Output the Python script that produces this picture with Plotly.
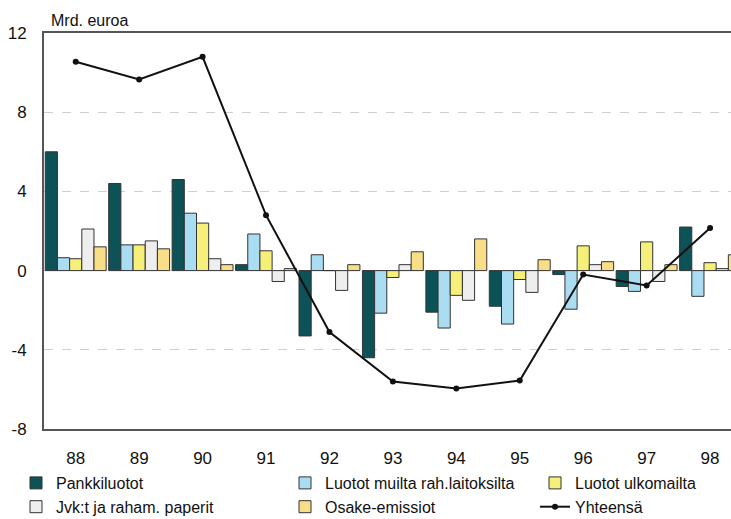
import plotly.graph_objects as go

# Dati (Mrd. euroa)
vuodet = ["88", "89", "90", "91", "92", "93", "94", "95", "96", "97", "98"]

pankkiluotot = [6.0, 4.4, 4.6, 0.3, -3.3, -4.4, -2.1, -1.8, -0.2, -0.8, 2.2]
luotot_muilta = [0.65, 1.3, 2.9, 1.85, 0.8, -2.15, -2.9, -2.7, -1.95, -1.05, -1.3]
luotot_ulkomailta = [0.6, 1.3, 2.4, 1.0, 0.0, -0.35, -1.25, -0.45, 1.25, 1.45, 0.4]
jvkt_paperit = [2.1, 1.5, 0.6, -0.55, -1.0, 0.3, -1.5, -1.1, 0.3, -0.55, 0.1]
osake_emissiot = [1.2, 1.1, 0.3, 0.1, 0.3, 0.95, 1.6, 0.55, 0.45, 0.3, 0.8]
yhteensa = [10.55, 9.65, 10.8, 2.8, -3.1, -5.6, -5.95, -5.55, -0.2, -0.75, 2.15]

# Tacche asse y (trattino semplice come nell'originale)
y_tick_vals = [-8, -4, 0, 4, 8, 12]
y_tick_text = ["-8", "-4", "0", "4", "8", "12"]

# Stile
COL = {
    'pankki': '#0c5256',
    'muilta': '#aadcf2',
    'ulko': '#f6f07a',
    'jvk': '#eeeeee',
    'osake': '#f8de86',
    'bordo': '#333333',
    'griglia': '#cfcfcf',
    'asse': '#555555',
}
FONT = "Liberation Sans, Arial, sans-serif"

fig = go.Figure()

# (nome, valori, colore, legenda) - tre colonne di legenda come nell'originale
serie = [
    ("Pankkiluotot", pankkiluotot, COL['pankki'], "legend"),
    ("Luotot muilta rah.laitoksilta", luotot_muilta, COL['muilta'], "legend2"),
    ("Luotot ulkomailta", luotot_ulkomailta, COL['ulko'], "legend3"),
    ("Jvk:t ja raham. paperit", jvkt_paperit, COL['jvk'], "legend"),
    ("Osake-emissiot", osake_emissiot, COL['osake'], "legend2"),
]
for nome, valori, colore, leg in serie:
    fig.add_trace(go.Bar(
        x=vuodet, y=valori, name=nome, legend=leg,
        marker=dict(color=colore, line=dict(color=COL['bordo'], width=1)),
    ))

# Linea totale
fig.add_trace(go.Scatter(
    x=vuodet, y=yhteensa, name="Yhteensä", mode="lines+markers",
    legend="legend3",
    line=dict(color="#111111", width=2),
    marker=dict(color="#111111", size=6),
))

def legenda(x_px):
    return dict(
        orientation="v", xref="container", yref="container",
        x=x_px / 731, y=1 - 466 / 519, xanchor="left", yanchor="top",
        font=dict(size=16), tracegroupgap=0, bgcolor="rgba(0,0,0,0)",
        traceorder="normal",
    )

fig.update_layout(
    width=731, height=519,
    margin=dict(l=44, r=0, t=33, b=90, autoexpand=False),
    paper_bgcolor="white", plot_bgcolor="white",
    font=dict(family=FONT, size=17, color="#111111"),
    barmode="group", bargap=0.04, bargroupgap=0,
    showlegend=True,
    legend=legenda(16),
    legend2=legenda(285),
    legend3=legenda(535),
    annotations=[dict(
        text="Mrd. euroa", xref="paper", yref="paper",
        x=(49 - 44) / 687, y=1, xanchor="left", yanchor="bottom",
        yshift=2, showarrow=False, font=dict(size=16),
    )],
)

fig.update_xaxes(
    range=[-0.5, 10.33], showgrid=False, zeroline=False, automargin=False,
    showline=True, linecolor=COL['asse'], linewidth=2, mirror=True,
    ticks="", ticklabelstandoff=13, tickfont=dict(size=17),
)
fig.update_yaxes(
    range=[-8, 12], tickvals=y_tick_vals, ticktext=y_tick_text, automargin=False,
    showgrid=True, gridcolor=COL['griglia'], griddash="dash", gridwidth=1,
    zeroline=False, showline=True, linecolor=COL['asse'], linewidth=2,
    ticks="", ticklabelstandoff=12, tickfont=dict(size=17),
)

# Azzera il margine del body, così la figura parte dall'angolo della pagina
fig.write_html(
    "out.html",
    config={"displayModeBar": False},
    post_script="document.body.style.margin='0px';",
)
